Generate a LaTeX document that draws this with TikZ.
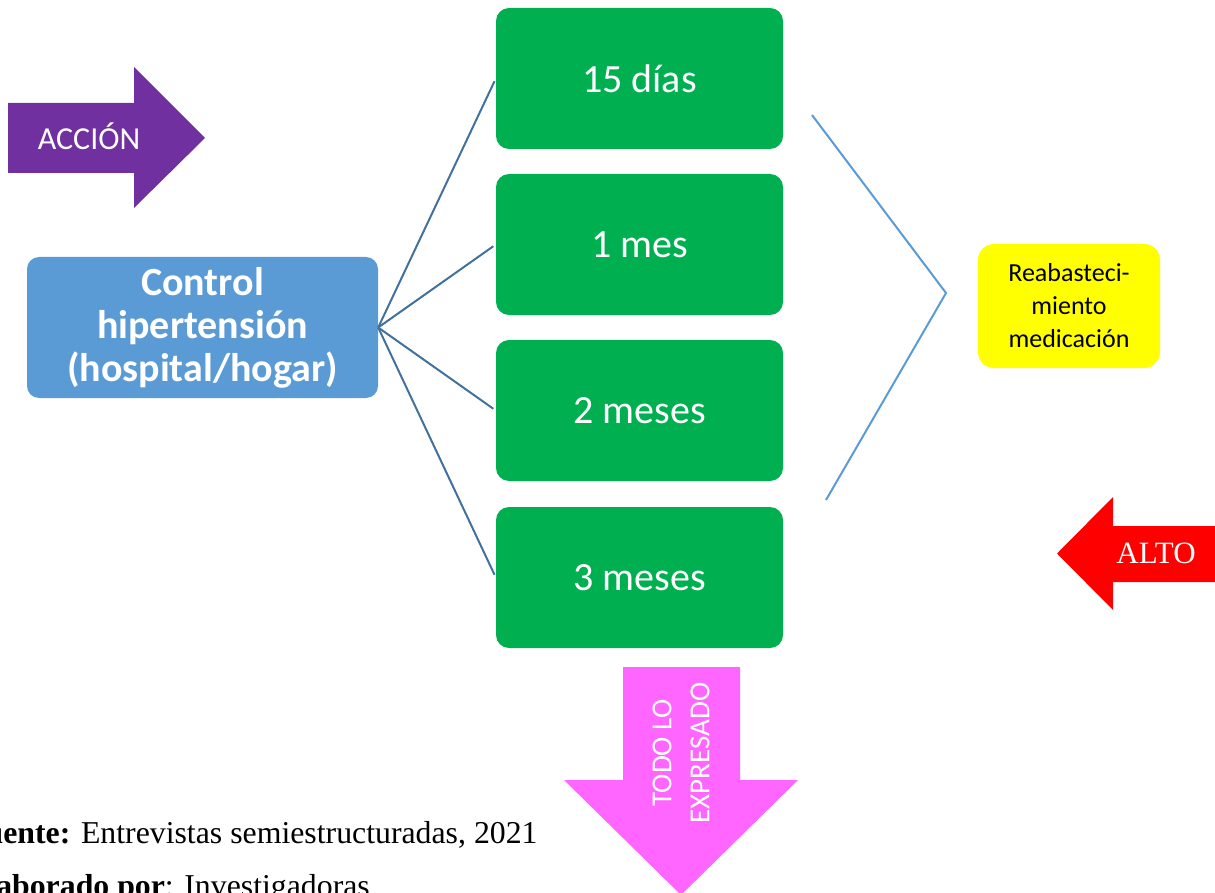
\documentclass[tikz,border=0pt]{standalone}
\usepackage{fontspec}
\setmainfont{Liberation Serif}
\newfontfamily\calibri{Carlito}

\definecolor{periodgreen}{HTML}{00B050}
\definecolor{ctrlblue}{HTML}{5B9BD5}
\definecolor{fanblue}{HTML}{41719C}
\definecolor{refillyellow}{HTML}{FFFF00}
\definecolor{actionpurple}{HTML}{7030A0}
\definecolor{stopred}{HTML}{FF0000}
\definecolor{allpink}{HTML}{FF66FF}

\tikzset{
  periodbox/.style={fill=periodgreen, rounded corners=13pt,
    minimum width=287pt, minimum height=141pt, inner sep=0pt,
    text=white, font=\calibri\fontsize{40}{48}\selectfont},
  ctrlbox/.style={fill=ctrlblue, rounded corners=12pt,
    minimum width=351pt, minimum height=141pt, inner sep=0pt,
    text=white, align=center, font=\calibri\bfseries\fontsize{40}{43}\selectfont},
  refillbox/.style={fill=refillyellow, rounded corners=16pt,
    minimum width=182pt, minimum height=124pt, inner sep=0pt,
    text=black, align=center, font=\calibri\fontsize{26}{33}\selectfont},
  fanline/.style={draw=fanblue, line width=2pt, shorten >=3pt},
  bracketline/.style={draw=ctrlblue, line width=2pt},
  arrowlabel/.style={text=white, inner sep=0pt},
  notetext/.style={anchor=base west, inner sep=0pt, text=black,
    font=\fontsize{31.8}{38}\selectfont}
}

\begin{document}
\begin{tikzpicture}[x=1pt, y=-1pt]
\useasboundingbox (0,0) rectangle (1215,893);

% central node and the four follow-up intervals
\node[ctrlbox] (ctrl) at (202.5,327.5) {Control\\hipertensión\\(hospital/hogar)};
\node[periodbox] (d15) at (639.5,78.5) {15 días};
\node[periodbox] (m1)  at (639.5,244.5) {1 mes};
\node[periodbox] (m2)  at (639.5,410.5) {2 meses};
\node[periodbox] (m3)  at (639.5,577.5) {3 meses};

\foreach \p in {d15,m1,m2,m3}
  \draw[fanline] (ctrl.east) -- (\p.west);

% bracket towards the refill box
\coordinate (brtop) at (812,115);
\coordinate (brtip) at (946,293);
\coordinate (brbot) at (826,500);
\draw[bracketline] (brtop) -- (brtip) -- (brbot);

\node[refillbox] (refill) at (1069,306) {Reabasteci-\\miento\\medicación};

% action arrow
\fill[actionpurple] (8,103) -- (134,103) -- (134,67) -- (205,138)
  -- (134,208) -- (134,173) -- (8,173) -- cycle;
\node[arrowlabel, font=\calibri\fontsize{32}{38}\selectfont] (accion) at (89,136) {ACCIÓN};

% stop arrow
\fill[stopred] (1220,526) -- (1113,526) -- (1113,497) -- (1057,553.5)
  -- (1113,610) -- (1113,582) -- (1220,582) -- cycle;
\node[arrowlabel, font=\fontsize{31}{36}\selectfont] (alto) at (1156,553) {ALTO};

% downward arrow
\fill[allpink] (623,667) -- (740,667) -- (740,780) -- (798,780)
  -- (681,895) -- (564,780) -- (623,780) -- cycle;
\node[arrowlabel, rotate=90, align=center,
  font=\calibri\fontsize{29}{38}\selectfont] (todo) at (681,753) {TODO LO\\EXPRESADO};

% source notes
\node[notetext] (fuente) at (-34,843) {\textbf{Fuente:} Entrevistas semiestructuradas, 2021};
\node[notetext] (elab) at (-34,896) {\textbf{Elaborado por}: Investigadoras};
\end{tikzpicture}
\end{document}
